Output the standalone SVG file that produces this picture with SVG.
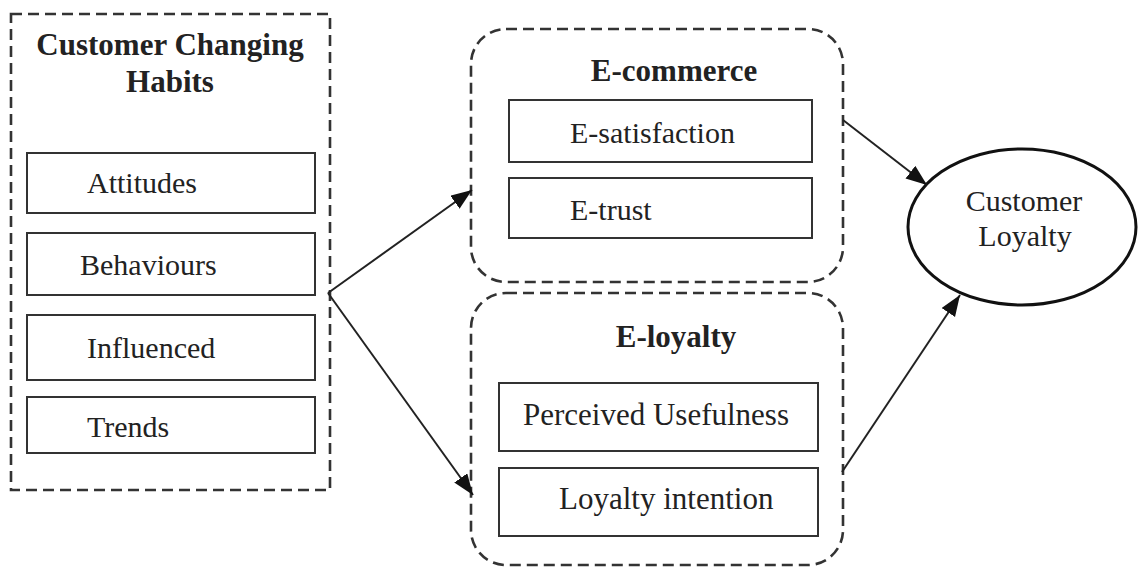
<svg xmlns="http://www.w3.org/2000/svg" width="1138" height="567" viewBox="0 0 1138 567">
<style>
.dash{fill:none;stroke:#333;stroke-width:2.6;stroke-dasharray:11 6}
.box{fill:#fff;stroke:#333;stroke-width:2}
.t{font-family:"Liberation Serif","Times New Roman",serif;font-size:30px;fill:#222}
.b{font-weight:bold;text-anchor:middle;font-size:31px}
.c{text-anchor:middle}
.conn{stroke:#222;stroke-width:2;fill:none}
</style>
<defs>
<marker id="ah" markerUnits="userSpaceOnUse" markerWidth="24" markerHeight="18" refX="21" refY="8" orient="auto">
<path d="M0,0 L21,8 L0,16 z" fill="#111"/>
</marker>
</defs>
<rect width="1138" height="567" fill="#fff"/>
<g id="habits">
<rect class="dash" x="11" y="14" width="319" height="476"/>
<text class="t b" x="170" y="55">Customer Changing</text>
<text class="t b" x="170" y="92">Habits</text>
</g>
<g id="attitudes">
<rect class="box" x="27" y="153" width="288" height="60"/>
<text class="t" x="87" y="193">Attitudes</text>
</g>
<g id="behaviours">
<rect class="box" x="27" y="233" width="288" height="62"/>
<text class="t" x="80" y="275">Behaviours</text>
</g>
<g id="influenced">
<rect class="box" x="27" y="315" width="288" height="65"/>
<text class="t" x="87" y="358">Influenced</text>
</g>
<g id="trends">
<rect class="box" x="27" y="397" width="288" height="56"/>
<text class="t" x="87" y="437">Trends</text>
</g>
<g id="ecommerce">
<rect class="dash" x="471" y="29" width="372" height="253" rx="35" ry="35"/>
<text class="t b" x="674" y="81">E-commerce</text>
</g>
<g id="esatisfaction">
<rect class="box" x="509" y="100" width="303" height="62"/>
<text class="t" x="570" y="143">E-satisfaction</text>
</g>
<g id="etrust">
<rect class="box" x="509" y="178" width="303" height="60"/>
<text class="t" x="570" y="220">E-trust</text>
</g>
<g id="eloyalty">
<rect class="dash" x="471" y="293" width="372" height="272" rx="35" ry="35"/>
<text class="t b" x="676" y="347">E-loyalty</text>
</g>
<g id="usefulness">
<rect class="box" x="499" y="383" width="319" height="68"/>
<text class="t" x="523" y="425" style="font-size:31px">Perceived Usefulness</text>
</g>
<g id="intention">
<rect class="box" x="499" y="468" width="319" height="68"/>
<text class="t" x="559" y="509" style="font-size:31px">Loyalty intention</text>
</g>
<g id="loyalty">
<ellipse cx="1022" cy="227" rx="114" ry="78" fill="#fff" stroke="#111" stroke-width="3"/>
<text class="t c" x="1024" y="211">Customer</text>
<text class="t c" x="1025" y="246">Loyalty</text>
</g>
<g id="connectors">
<line class="conn" x1="328" y1="293" x2="472" y2="190" marker-end="url(#ah)"/>
<line class="conn" x1="328" y1="293" x2="473" y2="495" marker-end="url(#ah)"/>
<line class="conn" x1="843" y1="120" x2="927" y2="185" marker-end="url(#ah)"/>
<line class="conn" x1="842" y1="472" x2="960" y2="295" marker-end="url(#ah)"/>
</g>
</svg>
